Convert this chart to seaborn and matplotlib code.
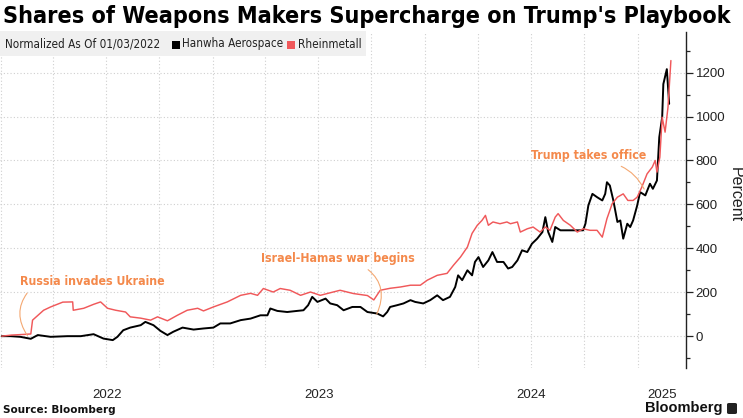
import matplotlib
matplotlib.use("Agg")
import matplotlib.pyplot as plt
import matplotlib.dates as mdates
import matplotlib.font_manager as fm
from matplotlib.patches import Rectangle, FancyBboxPatch
from matplotlib.ticker import MultipleLocator, FixedLocator, NullFormatter, FixedFormatter
import pandas as pd
import seaborn as sns

# ---------------- data ----------------
title = "Shares of Weapons Makers Supercharge on Trump's Playbook"
legend_note = "Normalized As Of 01/03/2022"
series_names = ["Hanwha Aerospace", "Rheinmetall"]

hanwha_dates = [
    "2022-01-03", "2022-01-18", "2022-02-04", "2022-02-22", "2022-03-06", "2022-03-28",
    "2022-04-26", "2022-05-19", "2022-06-10", "2022-06-27", "2022-07-13", "2022-07-21",
    "2022-07-31", "2022-08-12", "2022-08-30", "2022-09-07", "2022-09-21", "2022-10-03",
    "2022-10-15", "2022-10-25", "2022-11-10", "2022-11-29", "2022-12-16", "2023-01-02",
    "2023-01-14", "2023-01-31", "2023-02-18", "2023-03-07", "2023-03-24", "2023-04-05",
    "2023-04-10", "2023-04-22", "2023-05-09", "2023-05-26", "2023-06-06", "2023-06-14",
    "2023-06-21", "2023-06-30", "2023-07-14", "2023-07-22", "2023-08-03", "2023-08-14",
    "2023-08-29", "2023-09-12", "2023-09-24", "2023-10-11", "2023-10-21", "2023-10-28",
    "2023-11-02", "2023-11-14", "2023-11-25", "2023-12-07", "2023-12-15", "2023-12-29",
    "2024-01-10", "2024-01-22", "2024-02-01", "2024-02-13", "2024-02-22", "2024-02-27",
    "2024-03-05", "2024-03-14", "2024-03-22", "2024-03-27", "2024-04-02", "2024-04-10",
    "2024-04-19", "2024-04-26", "2024-05-04", "2024-05-15", "2024-05-23", "2024-05-30",
    "2024-06-08", "2024-06-16", "2024-06-25", "2024-07-03", "2024-07-12", "2024-07-21",
    "2024-07-26", "2024-07-31", "2024-08-07", "2024-08-12", "2024-08-21", "2024-09-29",
    "2024-10-03", "2024-10-08", "2024-10-15", "2024-10-23", "2024-11-01", "2024-11-06",
    "2024-11-09", "2024-11-14", "2024-11-20", "2024-11-27", "2024-12-02", "2024-12-07",
    "2024-12-14", "2024-12-19", "2024-12-24", "2024-12-31", "2025-01-05", "2025-01-14",
    "2025-01-22", "2025-01-27", "2025-02-03", "2025-02-07", "2025-02-12", "2025-02-14",
    "2025-02-20", "2025-02-24",
]
hanwha_values = [
    0, 0, -3, -12, 5, -3,
    0, 0, 9, -11, -18, -3,
    27, 39, 50, 65, 50, 24,
    5, 20, 39, 30, 35, 39,
    58, 58, 73, 80, 95, 95,
    126, 115, 110, 115, 118, 141,
    179, 156, 171, 149, 141, 118,
    133, 133, 110, 103, 90, 110,
    133, 141, 149, 164, 156, 149,
    164, 186, 164, 179, 224, 277,
    255, 300, 277, 338, 360, 315,
    345, 383, 338, 338, 308, 315,
    345, 391, 383, 421, 444, 474,
    542, 474, 429, 497, 482, 482,
    512, 595, 648, 633, 618, 648,
    701, 686, 618, 520, 527, 444,
    512, 497, 527, 595, 656, 641,
    694, 671, 709, 906, 997, 1148,
    1216, 1058,
]

rheinmetall_dates = [
    "2022-01-03", "2022-01-20", "2022-02-10", "2022-02-22", "2022-02-25", "2022-03-16",
    "2022-03-28", "2022-04-18", "2022-05-05", "2022-05-06", "2022-05-24", "2022-06-10",
    "2022-06-22", "2022-07-04", "2022-07-18", "2022-08-04", "2022-08-12", "2022-08-30",
    "2022-09-16", "2022-09-28", "2022-10-15", "2022-11-01", "2022-11-18", "2022-12-06",
    "2022-12-16", "2023-01-02", "2023-01-26", "2023-02-18", "2023-03-07", "2023-03-19",
    "2023-03-29", "2023-04-15", "2023-04-27", "2023-05-14", "2023-06-01", "2023-06-18",
    "2023-07-05", "2023-07-27", "2023-08-08", "2023-08-31", "2023-09-24", "2023-10-05",
    "2023-10-16", "2023-11-02", "2023-11-20", "2023-12-07", "2023-12-24", "2024-01-05",
    "2024-01-22", "2024-02-08", "2024-02-19", "2024-03-02", "2024-03-14", "2024-03-22",
    "2024-03-31", "2024-04-08", "2024-04-14", "2024-04-19", "2024-04-27", "2024-05-09",
    "2024-05-21", "2024-05-27", "2024-06-08", "2024-06-13", "2024-06-25", "2024-07-05",
    "2024-07-17", "2024-07-26", "2024-08-03", "2024-08-12", "2024-08-17", "2024-08-26",
    "2024-09-07", "2024-09-19", "2024-09-29", "2024-10-11", "2024-10-23", "2024-11-01",
    "2024-11-09", "2024-11-18", "2024-11-27", "2024-12-07", "2024-12-15", "2024-12-24",
    "2024-12-31", "2025-01-08", "2025-01-17", "2025-01-26", "2025-01-31", "2025-02-03",
    "2025-02-08", "2025-02-12", "2025-02-17", "2025-02-22", "2025-02-27",
]
rheinmetall_values = [
    0, 5, 8, 10, 73, 118,
    133, 155, 156, 118, 127, 145,
    156, 127, 118, 110, 88, 82,
    73, 88, 70, 95, 118, 127,
    115, 133, 156, 186, 195, 186,
    217, 201, 217, 209, 186, 201,
    186, 201, 209, 194, 185, 165,
    209, 218, 224, 232, 232, 255,
    277, 286, 323, 360, 406, 468,
    505, 527, 550, 505, 520, 512,
    520, 512, 520, 474, 489, 497,
    474, 497, 482, 542, 558, 527,
    505, 474, 489, 482, 482, 451,
    535, 603, 633, 648, 618, 618,
    633, 679, 739, 770, 800, 747,
    815, 997, 929, 1042, 1255,
]

annotation_texts = ["Russia invades Ukraine", "Israel-Hamas war begins", "Trump takes office"]
annotation_points = [("2022-02-16", 3), ("2023-10-10", 100), ("2025-01-12", 670)]
annotation_text_at = [("2022-06-08", 250), ("2023-08-04", 355), ("2024-10-08", 823)]

year_labels = ["2022", "2023", "2024", "2025"]
y_ticks = [0, 200, 400, 600, 800, 1000, 1200]

# ---------------- fonts ----------------
def find_font(fname_part):
    for f in fm.fontManager.ttflist:
        if f.fname.endswith(fname_part):
            return f.fname
    return None

cond_bold = find_font("DejaVuSansCondensed-Bold.ttf")
cond_reg = find_font("DejaVuSansCondensed.ttf")
title_fp = fm.FontProperties(fname=cond_bold) if cond_bold else fm.FontProperties(family="DejaVu Sans", weight="bold")
legend_fp = fm.FontProperties(fname=cond_reg) if cond_reg else fm.FontProperties(family="DejaVu Sans")
names = {f.name for f in fm.fontManager.ttflist}
regular = "Liberation Sans" if "Liberation Sans" in names else "DejaVu Sans"

sns.set_style("white")
plt.rcParams["font.family"] = [regular, "DejaVu Sans"]

RED = "#F0585A"
BLACK = "#000000"
ORANGE = "#F4894B"
ARC = "#F4A872"
GRID = "#CFCFCF"

# ---------------- frame ----------------
df_h = pd.DataFrame({"date": pd.to_datetime(hanwha_dates), "value": hanwha_values, "series": series_names[0]})
df_r = pd.DataFrame({"date": pd.to_datetime(rheinmetall_dates), "value": rheinmetall_values, "series": series_names[1]})

fig = plt.figure(figsize=(7.43, 4.18), dpi=100)
ax = fig.add_axes([0.0, 0.1196, 0.9233, 0.8038])

sns.lineplot(data=df_h, x="date", y="value", color=BLACK, linewidth=1.4, ax=ax, legend=False, zorder=3)
sns.lineplot(data=df_r, x="date", y="value", color=RED, linewidth=1.05, ax=ax, legend=False, zorder=4)

ax.set_xlim(pd.Timestamp("2021-12-31"), pd.Timestamp("2025-03-25"))
ax.set_ylim(-145, 1385)

# x axis: quarterly grid, year labels centred on each year span
ax.xaxis.set_major_locator(mdates.MonthLocator(bymonth=[1, 4, 7, 10]))
ax.xaxis.set_major_formatter(NullFormatter())
xl0, xl1 = ax.get_xlim()
label_pos = []
for yr in year_labels:
    a = mdates.date2num(pd.Timestamp(f"{yr}-01-01"))
    b = min(mdates.date2num(pd.Timestamp(f"{int(yr)+1}-01-01")), xl1)
    label_pos.append((a + b) / 2)
ax.xaxis.set_minor_locator(FixedLocator(label_pos))
ax.xaxis.set_minor_formatter(FixedFormatter(year_labels))
ax.tick_params(axis="x", which="both", length=0, labelsize=9.5, pad=15, colors="#222222")

# y axis on right
ax.yaxis.tick_right()
ax.yaxis.set_label_position("right")
ax.yaxis.set_major_locator(FixedLocator(y_ticks))
ax.yaxis.set_minor_locator(MultipleLocator(100))
ax.tick_params(axis="y", which="major", length=5, width=0.9, labelsize=9.5, pad=2, colors="#222222")
ax.tick_params(axis="y", which="minor", length=3, width=0.9)
ax.set_xlabel("")
ax.set_ylabel("")

ax.grid(True, which="major", axis="both", linestyle=(0, (1, 2)), color=GRID, linewidth=0.8)
ax.grid(False, which="minor")
for s in ["top", "left", "bottom"]:
    ax.spines[s].set_visible(False)
ax.spines["right"].set_color("#222222")
ax.spines["right"].set_linewidth(1.0)

fig.text(0.989, 0.5335, "Percent", rotation=270, ha="center", va="center", fontsize=11.5, color="#222222")

# annotations
ann_style = [dict(relpos=(0.08, 0.0), rad=0.4),
             dict(relpos=(0.65, 0.0), rad=-0.45),
             dict(relpos=(0.66, 0.0), rad=-0.25)]
for txt, (pd_, pv), (td, tv), st in zip(annotation_texts, annotation_points, annotation_text_at, ann_style):
    ax.annotate(txt, xy=(pd.Timestamp(pd_), pv), xytext=(pd.Timestamp(td), tv), textcoords="data",
                ha="center", va="center", color=ORANGE, fontproperties=title_fp, fontsize=8.8,
                arrowprops=dict(arrowstyle="-", color=ARC, lw=0.8, relpos=st["relpos"],
                                shrinkA=2, shrinkB=0,
                                connectionstyle=f"arc3,rad={st['rad']}"), zorder=6)

# title
fig.text(0.004, 0.988, title, ha="left", va="top", fontproperties=title_fp, fontsize=16.75, color="#000000")

# legend band
fig.patches.append(Rectangle((0.0, 1 - 56 / 418), 366 / 743, 25 / 418, transform=fig.transFigure,
                             facecolor="#F0F0F0", edgecolor="none", zorder=0))
ly = 1 - 44 / 418
LFS = 8.4
fig.text(5 / 743, ly, legend_note, ha="left", va="center", fontproperties=legend_fp, fontsize=LFS, color="#222222")
fig.patches.append(Rectangle((172 / 743, 1 - 48.5 / 418), 8 / 743, 8 / 418, transform=fig.transFigure,
                             facecolor=BLACK, edgecolor="none"))
fig.text(182 / 743, ly, series_names[0], ha="left", va="center", fontproperties=legend_fp, fontsize=LFS, color="#222222")
fig.patches.append(Rectangle((287 / 743, 1 - 48.5 / 418), 8 / 743, 8 / 418, transform=fig.transFigure,
                             facecolor=RED, edgecolor="none"))
fig.text(298 / 743, ly, series_names[1], ha="left", va="center", fontproperties=legend_fp, fontsize=LFS, color="#222222")

# footer
fig.text(3 / 743, 1 - 410 / 418, "Source: Bloomberg", ha="left", va="center", fontsize=7.5,
         family="DejaVu Sans", weight="bold", color="#111111")
fig.text(722 / 743, 1 - 408 / 418, "Bloomberg", ha="right", va="center", fontsize=10.5,
         family=[regular, "DejaVu Sans"], weight="bold", color="#111111")
fig.patches.append(FancyBboxPatch((727 / 743, 1 - 414 / 418), 10 / 743, 11 / 418, transform=fig.transFigure,
                                  boxstyle="round,pad=0,rounding_size=0.003", facecolor="#222222", edgecolor="none"))

fig.savefig("out.png", dpi=100)
